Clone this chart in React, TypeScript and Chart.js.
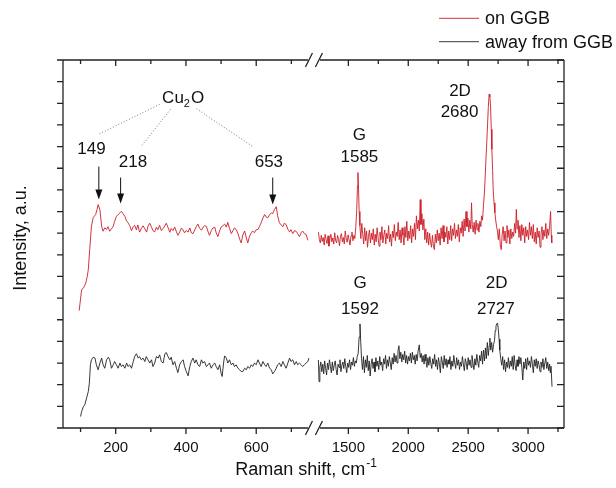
import React, { useEffect, useRef } from "react";
import { Chart, registerables } from "chart.js";

Chart.register(...registerables);

// ---- broken x axis definition (real Raman shift units) ----
const LEFT_MAX = 760;
const RIGHT_MIN = 1200;
const RIGHT_SCALE = 0.341;
const X_MIN = 50;
const X_MAX = 3300;

const majorXTicks = [200, 400, 600, 1500, 2000, 2500, 3000];
const minorXTicks = [100, 300, 500, 700, 1750, 2250, 2750, 3250];
const yTickValues = [0, 1, 2, 3, 4, 5, 6, 7, 8, 9, 10, 11, 12, 13, 14, 15, 16, 17];

const seriesNames = ["on GGB", "away from GGB"];
const seriesColors = ["rgb(204,30,40)", "rgb(35,35,35)"];

// ---- spectra: [Raman shift cm^-1, intensity a.u.] ----
const onGGBLow: number[][] = [
  [96, 5.42], [103, 6.39], [107, 6.44], [111, 6.55], [115, 6.71], [119, 7.0], [122, 7.31], [126, 8.24], [131, 9.32], [136, 9.72],
  [140, 9.8], [143, 9.86], [147, 10.1], [150, 10.32], [155, 10.09], [160, 9.32], [164, 9.09], [169, 9.25], [174, 9.17], [178, 9.3],
  [183, 9.09], [188, 9.2], [193, 9.32], [197, 9.55], [202, 9.78], [207, 9.85], [212, 9.94], [216, 10.01], [221, 9.9], [226, 9.78],
  [230, 9.6], [235, 9.48], [240, 9.35], [245, 9.12], [250, 9.3], [254, 9.36], [259, 9.15], [263, 9.38], [268, 9.05], [273, 9.22],
  [278, 9.34], [283, 9.2], [288, 9.05], [292, 9.32], [297, 9.46], [302, 9.28], [306, 9.12], [311, 9.06], [316, 9.28], [320, 9.16],
  [325, 9.36], [330, 9.12], [335, 9.22], [340, 9.34], [344, 9.46], [349, 9.26], [354, 9.04], [358, 9.22], [363, 9.12], [368, 9.28],
  [373, 9.06], [377, 8.9], [382, 9.05], [387, 9.24], [391, 9.17], [396, 9.02], [401, 9.12], [406, 9.05], [411, 9.24], [415, 9.02],
  [420, 8.98], [425, 9.15], [430, 9.32], [434, 9.42], [439, 9.22], [444, 9.14], [449, 9.28], [453, 9.34], [458, 9.32], [463, 9.06],
  [467, 8.9], [472, 9.12], [477, 9.24], [482, 9.28], [486, 9.02], [491, 8.84], [496, 9.12], [500, 9.28], [505, 9.34], [510, 9.42],
  [515, 9.28], [519, 9.5], [524, 9.22], [529, 8.98], [534, 9.12], [538, 9.24], [543, 9.17], [548, 8.98], [553, 8.72], [557, 8.55],
  [562, 8.92], [567, 9.1], [572, 8.78], [576, 8.55], [581, 8.86], [586, 9.02], [590, 9.1], [595, 9.02], [600, 9.16], [605, 9.17],
  [609, 9.3], [614, 9.48], [619, 9.7], [624, 9.86], [628, 9.75], [633, 9.71], [638, 9.85], [643, 9.94], [647, 9.9], [652, 10.09],
  [657, 10.22], [661, 9.8], [666, 9.48], [671, 9.38], [676, 9.3], [680, 9.46], [685, 9.4], [690, 9.18], [695, 9.06], [699, 9.16],
  [704, 8.98], [709, 9.12], [714, 9.08], [718, 8.98], [723, 8.84], [728, 9.02], [732, 9.1], [737, 8.98], [742, 8.94], [747, 8.67],
];

const onGGBHigh: number[][] = [
  [1250, 9.05], [1258, 8.7], [1266, 8.55], [1274, 8.9], [1282, 8.62], [1290, 8.8], [1298, 8.45], [1306, 8.95], [1314, 8.7], [1322, 8.52],
  [1330, 8.88], [1338, 8.4], [1346, 8.75], [1354, 8.95], [1362, 8.6], [1370, 8.78], [1378, 8.5], [1386, 9.02], [1394, 8.65], [1402, 8.55],
  [1410, 8.9], [1418, 8.7], [1426, 8.42], [1434, 8.85], [1442, 8.98], [1450, 8.6], [1458, 8.8], [1466, 8.5], [1474, 9.1], [1482, 8.75],
  [1490, 8.58], [1498, 8.92], [1506, 8.7], [1514, 8.45], [1522, 8.88], [1530, 9.05], [1538, 8.65], [1546, 8.9], [1554, 8.75], [1562, 9.3],
  [1570, 10.1], [1576, 11.2], [1580, 11.8], [1585, 11.0], [1590, 10.0], [1596, 9.35], [1604, 8.75], [1612, 9.45], [1620, 8.95], [1628, 8.5],
  [1636, 9.25], [1644, 8.65], [1652, 9.1], [1660, 8.35], [1668, 8.85], [1676, 9.15], [1684, 8.55], [1692, 9.0], [1700, 8.7], [1708, 9.2],
  [1716, 8.45], [1724, 8.95], [1732, 8.6], [1740, 9.25], [1748, 8.8], [1756, 8.4], [1764, 9.05], [1772, 8.7], [1780, 9.3], [1788, 8.55],
  [1796, 8.9], [1804, 9.15], [1812, 8.5], [1820, 9.0], [1828, 8.75], [1836, 9.35], [1844, 8.6], [1852, 8.95], [1860, 8.4], [1868, 9.1],
  [1876, 8.8], [1884, 9.4], [1892, 8.65], [1900, 9.05], [1908, 8.85], [1916, 9.5], [1924, 8.7], [1932, 9.15], [1940, 8.55], [1948, 9.25],
  [1956, 8.9], [1964, 8.45], [1972, 9.3], [1980, 8.8], [1988, 9.55], [1996, 8.65], [2004, 9.1], [2012, 8.75], [2020, 9.35], [2028, 8.55],
  [2036, 9.2], [2044, 8.85], [2052, 9.45], [2060, 8.7], [2068, 9.8], [2076, 9.2], [2084, 9.6], [2092, 9.1], [2100, 10.55], [2106, 9.4],
  [2114, 9.9], [2122, 9.15], [2130, 9.65], [2138, 8.7], [2146, 9.2], [2154, 8.55], [2162, 9.05], [2170, 8.45], [2178, 9.0], [2186, 8.6],
  [2194, 8.35], [2202, 8.9], [2210, 8.4], [2218, 8.24], [2226, 8.95], [2234, 8.55], [2242, 9.15], [2250, 8.65], [2258, 9.0], [2266, 8.45],
  [2274, 9.25], [2282, 8.75], [2290, 9.35], [2298, 8.6], [2306, 9.05], [2314, 8.8], [2322, 9.3], [2330, 8.5], [2338, 9.1], [2346, 8.7],
  [2354, 9.35], [2362, 8.65], [2370, 9.2], [2378, 8.9], [2386, 9.45], [2394, 8.75], [2402, 9.15], [2410, 8.85], [2418, 9.4], [2426, 8.6],
  [2434, 9.25], [2442, 9.0], [2450, 9.55], [2458, 8.85], [2466, 9.65], [2474, 9.1], [2482, 10.0], [2490, 9.3], [2498, 9.7], [2506, 9.05],
  [2514, 9.6], [2522, 9.2], [2528, 10.4], [2534, 9.4], [2542, 9.05], [2550, 9.5], [2558, 8.95], [2566, 9.6], [2574, 9.15], [2582, 9.45],
  [2590, 9.05], [2598, 9.55], [2606, 9.3], [2612, 9.8], [2620, 9.6], [2628, 10.3], [2636, 10.9], [2642, 11.6], [2650, 12.6], [2659, 13.64],
  [2668, 14.8], [2675, 15.42], [2681, 15.3], [2687, 14.88], [2693, 13.8], [2698, 12.87], [2704, 11.9], [2709, 11.02], [2716, 10.4], [2723, 9.94],
  [2730, 9.6], [2737, 9.32], [2744, 9.1], [2752, 8.7], [2760, 9.2], [2768, 8.45], [2776, 8.24], [2784, 8.95], [2792, 9.3], [2800, 8.65],
  [2808, 9.1], [2816, 8.55], [2824, 9.35], [2832, 8.8], [2840, 9.15], [2848, 8.5], [2856, 9.2], [2864, 8.75], [2872, 9.05], [2880, 8.85],
  [2888, 9.45], [2896, 9.0], [2902, 10.1], [2908, 9.2], [2916, 9.6], [2924, 8.8], [2932, 9.35], [2940, 8.65], [2948, 9.4], [2956, 8.9],
  [2964, 9.25], [2972, 8.55], [2980, 9.3], [2988, 8.85], [2996, 9.15], [3004, 8.7], [3012, 9.5], [3020, 8.9], [3028, 9.3], [3036, 8.75],
  [3044, 9.4], [3052, 8.6], [3060, 9.05], [3068, 8.5], [3076, 9.25], [3084, 8.8], [3092, 9.1], [3100, 8.35], [3108, 8.95], [3116, 9.3],
  [3124, 8.7], [3132, 9.15], [3140, 8.85], [3148, 9.45], [3156, 8.75], [3164, 9.2], [3172, 8.9], [3180, 9.35], [3188, 10.0], [3194, 8.9],
  [3198, 8.55],
];

const awayLow: number[][] = [
  [100, 0.53], [103, 0.76], [108, 0.99], [112, 1.07], [117, 1.38], [122, 1.68], [125, 2.07], [128, 2.92], [131, 3.15], [136, 3.27],
  [141, 3.23], [145, 2.92], [150, 2.69], [155, 3.0], [160, 3.23], [164, 2.92], [169, 2.76], [174, 3.15], [179, 3.27], [183, 3.15],
  [188, 2.76], [193, 2.92], [197, 3.07], [202, 2.92], [207, 2.76], [212, 3.0], [216, 2.84], [221, 2.92], [226, 2.76], [231, 3.0],
  [235, 2.84], [240, 2.92], [245, 2.76], [250, 3.07], [254, 3.3], [259, 3.43], [264, 3.23], [268, 3.3], [273, 3.15], [278, 3.23],
  [283, 3.07], [287, 3.3], [292, 3.15], [297, 3.0], [302, 3.15], [306, 2.84], [311, 3.0], [316, 3.3], [321, 3.23], [325, 3.38],
  [330, 3.07], [335, 3.0], [340, 3.43], [344, 3.49], [349, 3.3], [354, 3.15], [358, 3.27], [363, 2.92], [368, 3.07], [373, 2.76],
  [377, 2.56], [382, 2.92], [387, 3.07], [392, 3.15], [396, 2.84], [401, 2.61], [406, 2.41], [411, 2.84], [415, 3.07], [420, 3.23],
  [425, 3.0], [429, 3.15], [434, 2.92], [439, 2.84], [444, 3.15], [448, 3.0], [453, 3.07], [458, 2.84], [463, 2.92], [467, 3.0],
  [472, 2.76], [477, 2.92], [482, 3.0], [486, 2.84], [491, 2.69], [496, 2.92], [500, 2.53], [503, 2.38], [507, 3.0], [510, 3.33],
  [515, 3.23], [519, 3.0], [524, 3.15], [529, 2.92], [534, 3.0], [538, 2.84], [543, 2.92], [548, 2.76], [553, 2.69], [557, 2.61],
  [562, 2.61], [567, 2.76], [572, 2.69], [576, 2.84], [581, 2.76], [586, 2.92], [590, 2.84], [595, 3.0], [600, 2.92], [605, 3.15],
  [609, 3.0], [614, 2.84], [619, 3.07], [624, 2.92], [628, 2.84], [633, 3.0], [638, 2.76], [643, 2.69], [647, 2.5], [652, 2.61],
  [657, 2.76], [661, 2.92], [666, 3.0], [671, 2.84], [676, 3.07], [680, 2.92], [685, 2.76], [690, 3.0], [695, 3.23], [699, 3.07],
  [704, 3.15], [709, 2.92], [714, 3.07], [718, 2.92], [723, 3.0], [728, 2.92], [732, 2.84], [737, 2.92], [742, 3.0], [747, 3.07],
  [750, 3.23],
];

const awayHigh: number[][] = [
  [1250, 3.14], [1255, 2.14], [1262, 2.8], [1270, 3.05], [1278, 2.6], [1286, 2.95], [1294, 2.5], [1302, 3.1], [1310, 2.75], [1318, 2.45],
  [1326, 3.0], [1334, 2.7], [1342, 3.15], [1350, 2.85], [1358, 2.55], [1366, 3.05], [1374, 2.65], [1382, 2.9], [1390, 3.1], [1398, 2.7],
  [1406, 2.45], [1414, 2.95], [1422, 2.8], [1430, 3.15], [1438, 2.6], [1446, 2.9], [1454, 3.05], [1462, 2.75], [1470, 3.2], [1478, 2.85],
  [1486, 2.55], [1494, 3.0], [1502, 2.8], [1510, 3.15], [1518, 2.7], [1526, 3.05], [1534, 2.9], [1542, 3.25], [1550, 2.85], [1558, 3.1],
  [1566, 3.0], [1574, 3.3], [1582, 3.45], [1590, 4.2], [1597, 4.81], [1603, 4.0], [1610, 3.2], [1618, 2.7], [1626, 3.3], [1634, 2.55],
  [1642, 3.15], [1650, 2.8], [1658, 3.35], [1666, 2.65], [1674, 3.1], [1682, 2.4], [1690, 2.95], [1698, 3.2], [1706, 2.75], [1714, 3.05],
  [1722, 2.6], [1730, 3.25], [1738, 2.85], [1746, 3.1], [1754, 2.7], [1762, 3.3], [1770, 2.9], [1778, 3.05], [1786, 2.65], [1794, 3.2],
  [1802, 2.95], [1810, 3.35], [1818, 2.75], [1826, 3.15], [1834, 2.85], [1842, 3.3], [1850, 3.0], [1858, 2.7], [1866, 3.25], [1874, 2.95],
  [1882, 3.45], [1890, 3.05], [1898, 3.35], [1906, 3.0], [1914, 3.55], [1922, 3.8], [1930, 3.2], [1938, 3.5], [1946, 3.05], [1954, 3.4],
  [1962, 3.15], [1970, 3.55], [1978, 3.0], [1986, 3.35], [1994, 2.95], [2002, 3.3], [2010, 3.1], [2018, 3.45], [2026, 3.0], [2034, 3.5],
  [2042, 3.15], [2050, 3.35], [2058, 2.95], [2066, 3.4], [2074, 3.1], [2082, 3.55], [2092, 3.84], [2100, 3.25], [2108, 3.45], [2116, 3.05],
  [2124, 3.35], [2132, 2.95], [2140, 3.4], [2148, 3.1], [2156, 2.8], [2164, 3.25], [2172, 2.9], [2180, 3.3], [2188, 3.0], [2196, 2.75],
  [2204, 3.2], [2212, 2.95], [2220, 3.4], [2228, 2.85], [2236, 3.15], [2244, 2.7], [2252, 3.25], [2260, 2.95], [2268, 2.55], [2276, 3.3],
  [2284, 3.05], [2292, 2.75], [2300, 3.35], [2308, 2.9], [2316, 3.2], [2324, 2.8], [2332, 3.15], [2340, 2.95], [2348, 3.3], [2356, 2.7],
  [2364, 3.1], [2372, 2.85], [2380, 3.35], [2388, 3.0], [2396, 2.75], [2404, 3.25], [2412, 2.9], [2420, 3.15], [2428, 2.7], [2436, 3.05],
  [2444, 2.85], [2452, 3.3], [2460, 2.95], [2468, 2.65], [2476, 3.2], [2484, 3.0], [2492, 2.7], [2500, 3.25], [2508, 2.9], [2516, 3.15],
  [2524, 2.8], [2532, 3.35], [2540, 3.0], [2548, 2.7], [2556, 3.2], [2564, 2.9], [2572, 3.4], [2580, 3.05], [2588, 2.8], [2596, 3.35],
  [2604, 3.1], [2612, 3.55], [2620, 2.95], [2628, 3.6], [2636, 3.1], [2644, 3.7], [2652, 3.2], [2660, 3.95], [2668, 3.35], [2676, 3.8],
  [2681, 4.15], [2688, 3.6], [2696, 3.95], [2704, 3.5], [2712, 3.85], [2720, 4.05], [2726, 4.5], [2732, 4.7], [2738, 4.8], [2745, 4.85],
  [2752, 4.55], [2758, 4.1], [2764, 3.6], [2772, 3.2], [2780, 2.9], [2788, 3.3], [2796, 2.7], [2804, 3.15], [2812, 2.6], [2820, 3.05],
  [2828, 2.8], [2836, 3.25], [2844, 2.75], [2852, 3.1], [2860, 2.85], [2868, 3.3], [2876, 2.7], [2884, 3.35], [2892, 2.9], [2900, 2.65],
  [2908, 3.15], [2916, 2.85], [2924, 3.3], [2932, 2.95], [2940, 3.25], [2948, 2.8], [2956, 2.22], [2964, 3.05], [2972, 2.75], [2980, 3.2],
  [2988, 2.7], [2996, 3.25], [3004, 2.9], [3012, 3.1], [3020, 2.8], [3028, 3.3], [3036, 2.95], [3044, 2.55], [3052, 3.15], [3060, 2.85],
  [3068, 3.2], [3076, 2.75], [3084, 3.1], [3092, 2.9], [3100, 2.6], [3108, 3.05], [3116, 2.8], [3124, 3.2], [3132, 2.7], [3140, 3.0],
  [3148, 3.25], [3156, 2.75], [3164, 3.05], [3172, 2.65], [3180, 2.95], [3186, 2.55], [3192, 2.85], [3200, 1.91],
];

// ---- annotations (data coordinates) ----
const peakArrows: number[][] = [
  // x, y start, y tip
  [152, 12.08, 10.56],
  [214, 11.57, 10.37],
  [647, 11.57, 10.32],
];
const peakLabels: (string | number)[][] = [
  ["149", 131, 12.87],
  ["218", 249, 12.28],
  ["653", 636, 12.28],
  ["G", 1592, 13.52],
  ["1585", 1592, 12.49],
  ["2D", 2432, 15.57],
  ["2680", 2428, 14.6],
  ["G", 1597, 6.7],
  ["1592", 1597, 5.5],
  ["2D", 2737, 6.7],
  ["2727", 2731, 5.5],
];
const cu2oLabel = [392, 15.3];
const cu2oLeaders: number[][] = [
  [325, 14.95, 150, 13.56],
  [356, 14.72, 273, 13.02],
  [430, 14.75, 590, 13.0],
];

const FONT = '"Liberation Sans", Arial, Helvetica, sans-serif';

function toAxis(x: number): number {
  return x <= LEFT_MAX ? x : LEFT_MAX + (x - RIGHT_MIN) * RIGHT_SCALE;
}
function fromAxis(v: number): number {
  return v <= LEFT_MAX ? v : RIGHT_MIN + (v - LEFT_MAX) / RIGHT_SCALE;
}

const decorPlugin = {
  id: "decor",
  afterDraw(chart: any) {
    const { ctx, chartArea, scales } = chart;
    const { left, right, top, bottom } = chartArea;
    const xs = scales.x;
    const ys = scales.y;
    const px = (r: number) => xs.getPixelForValue(toAxis(r));
    const py = (v: number) => ys.getPixelForValue(v);
    ctx.save();

    // frame with axis break
    const bc = px(LEFT_MAX) + 1.5;
    const gap = 6;
    ctx.strokeStyle = "#222";
    ctx.lineWidth = 1.3;
    ctx.beginPath();
    ctx.moveTo(left, top);
    ctx.lineTo(left, bottom);
    ctx.moveTo(right, top);
    ctx.lineTo(right, bottom);
    for (const yy of [top, bottom]) {
      ctx.moveTo(left, yy);
      ctx.lineTo(bc - gap, yy);
      ctx.moveTo(bc + gap, yy);
      ctx.lineTo(right, yy);
    }
    ctx.stroke();
    // break slashes
    ctx.beginPath();
    for (const yy of [top, bottom]) {
      for (const cx of [bc - gap + 1, bc + gap - 1]) {
        ctx.moveTo(cx - 3.5, yy + 7);
        ctx.lineTo(cx + 3.5, yy - 7);
      }
    }
    ctx.stroke();

    // x ticks
    ctx.beginPath();
    for (const t of majorXTicks) {
      const p = px(t);
      ctx.moveTo(p, bottom);
      ctx.lineTo(p, bottom + 6);
      ctx.moveTo(p, top);
      ctx.lineTo(p, top + 6);
    }
    for (const t of minorXTicks) {
      const p = px(t);
      ctx.moveTo(p, bottom);
      ctx.lineTo(p, bottom + 4);
      ctx.moveTo(p, top);
      ctx.lineTo(p, top + 4);
    }
    // y ticks
    for (const t of yTickValues) {
      const p = py(t);
      ctx.moveTo(left, p);
      ctx.lineTo(left - 6, p);
      ctx.moveTo(right, p);
      ctx.lineTo(right - 7, p);
    }
    ctx.stroke();

    // leader dotted lines
    ctx.strokeStyle = "#777";
    ctx.lineWidth = 1;
    ctx.setLineDash([1, 2]);
    ctx.beginPath();
    for (const [x1, y1, x2, y2] of cu2oLeaders) {
      ctx.moveTo(px(x1), py(y1));
      ctx.lineTo(px(x2), py(y2));
    }
    ctx.stroke();
    ctx.setLineDash([]);

    // arrows
    ctx.strokeStyle = "#111";
    ctx.fillStyle = "#111";
    for (const [x, y0, y1] of peakArrows) {
      const p = px(x);
      const a = py(y0);
      const b = py(y1);
      ctx.beginPath();
      ctx.moveTo(p, a);
      ctx.lineTo(p, b - 8);
      ctx.stroke();
      ctx.beginPath();
      ctx.moveTo(p, b);
      ctx.lineTo(p - 3.5, b - 10);
      ctx.lineTo(p + 3.5, b - 10);
      ctx.closePath();
      ctx.fill();
    }

    // peak labels
    ctx.fillStyle = "#111";
    ctx.font = `17px ${FONT}`;
    ctx.textAlign = "center";
    ctx.textBaseline = "middle";
    for (const [txt, x, y] of peakLabels) {
      ctx.fillText(String(txt), px(Number(x)), py(Number(y)));
    }

    // Cu2O with subscript
    {
      const cx = px(cu2oLabel[0]);
      const cy = py(cu2oLabel[1]);
      ctx.textAlign = "left";
      ctx.textBaseline = "alphabetic";
      ctx.font = `17px ${FONT}`;
      const wCu = ctx.measureText("Cu").width;
      const wO = ctx.measureText("O").width;
      ctx.font = `11px ${FONT}`;
      const w2 = ctx.measureText("2").width;
      const total = wCu + w2 + wO + 1;
      let xx = cx - total / 2;
      const base = cy + 6;
      ctx.font = `17px ${FONT}`;
      ctx.fillText("Cu", xx, base);
      xx += wCu;
      ctx.font = `11px ${FONT}`;
      ctx.fillText("2", xx, base + 4);
      xx += w2 + 1;
      ctx.font = `17px ${FONT}`;
      ctx.fillText("O", xx, base);
    }

    // x title with superscript
    {
      ctx.fillStyle = "#111";
      ctx.font = `18px ${FONT}`;
      const main = "Raman shift, cm";
      const wMain = ctx.measureText(main).width;
      ctx.font = `12px ${FONT}`;
      const sup = "-1";
      const wSup = ctx.measureText(sup).width;
      const cx = (left + right) / 2 - 8;
      let xx = cx - (wMain + wSup) / 2;
      const base = 475;
      ctx.textAlign = "left";
      ctx.textBaseline = "alphabetic";
      ctx.font = `18px ${FONT}`;
      ctx.fillText(main, xx, base);
      xx += wMain + 1;
      ctx.font = `12px ${FONT}`;
      ctx.fillText(sup, xx, base - 8);
    }

    // y title
    ctx.save();
    ctx.translate(21, (top + bottom) / 2 - 6);
    ctx.rotate(-Math.PI / 2);
    ctx.font = `18px ${FONT}`;
    ctx.textAlign = "center";
    ctx.textBaseline = "middle";
    ctx.fillText("Intensity, a.u.", 0, 0);
    ctx.restore();

    // legend
    const legY = [18.3, 41.7];
    for (let i = 0; i < seriesNames.length; i++) {
      ctx.strokeStyle = seriesColors[i];
      ctx.lineWidth = 0.9;
      ctx.beginPath();
      ctx.moveTo(439, legY[i]);
      ctx.lineTo(479, legY[i]);
      ctx.stroke();
      ctx.fillStyle = "#111";
      ctx.font = `18px ${FONT}`;
      ctx.textAlign = "left";
      ctx.textBaseline = "middle";
      ctx.fillText(seriesNames[i], 485, legY[i] + 1);
    }

    ctx.restore();
  },
};

function mk(data: number[][]) {
  return data.map(([x, y]) => ({ x: toAxis(x), y }));
}

export default function App() {
  const ref = useRef<HTMLCanvasElement>(null);
  useEffect(() => {
    if (!ref.current) return;
    const common = { borderWidth: 0.9, pointRadius: 0, tension: 0, fill: false };
    const chart = new Chart(ref.current, {
      type: "line",
      data: {
        datasets: [
          { label: seriesNames[0], data: mk(onGGBLow), borderColor: seriesColors[0], ...common },
          { label: seriesNames[0], data: mk(onGGBHigh), borderColor: seriesColors[0], ...common },
          { label: seriesNames[1], data: mk(awayLow), borderColor: seriesColors[1], ...common },
          { label: seriesNames[1], data: mk(awayHigh), borderColor: seriesColors[1], ...common },
        ],
      },
      options: {
        animation: false,
        responsive: false,
        maintainAspectRatio: false,
        parsing: false as any,
        normalized: true,
        layout: { padding: { left: 0, top: 60, right: 52, bottom: 0 } },
        plugins: { legend: { display: false }, tooltip: { enabled: false } },
        scales: {
          x: {
            type: "linear",
            min: X_MIN,
            max: toAxis(X_MAX),
            grid: { display: false, drawTicks: false },
            border: { display: false },
            afterBuildTicks: (scale: any) => {
              scale.ticks = [...majorXTicks, ...minorXTicks]
                .sort((a, b) => a - b)
                .map((t) => ({ value: toAxis(t) }));
            },
            afterFit: (scale: any) => {
              scale.height = 60;
            },
            ticks: {
              autoSkip: false,
              maxRotation: 0,
              minRotation: 0,
              padding: 11,
              color: "#111",
              font: { size: 15, family: FONT },
              callback: (value: any) => {
                const r = Math.round(fromAxis(Number(value)));
                return majorXTicks.includes(r) ? String(r) : "";
              },
            },
          },
          y: {
            type: "linear",
            min: 0,
            max: 17,
            grid: { display: false, drawTicks: false },
            border: { display: false },
            ticks: { display: false },
            afterFit: (scale: any) => {
              scale.width = 63;
            },
          },
        },
      },
      plugins: [decorPlugin],
    });
    return () => chart.destroy();
  }, []);
  return (
    <div style={{ position: "fixed", left: 0, top: 0, width: 616, height: 488, background: "#fff" }}>
      <canvas ref={ref} width={616} height={488} style={{ width: 616, height: 488, display: "block" }} />
    </div>
  );
}
